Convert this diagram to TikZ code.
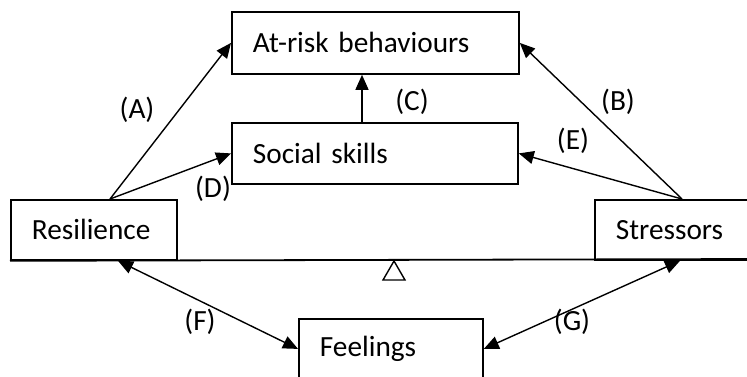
\documentclass[tikz,border=0pt]{standalone}
\usepackage{fontspec}
\setmainfont[WordSpace=0.75]{Carlito}
\usetikzlibrary{arrows.meta}
\begin{document}
\begin{tikzpicture}[x=1pt,y=-1pt,
  every node/.style={font=\fontsize{29.3}{34}\selectfont},
  box/.style={draw, line width=1.8pt, anchor=north west, align=left, inner xsep=21pt, inner ysep=0pt},
  arr/.style={line width=1.4pt, -{Triangle[length=15pt,width=13pt]}},
  darr/.style={line width=1.4pt, {Triangle[length=15pt,width=13pt]}-{Triangle[length=15pt,width=13pt]}},
  lbl/.style={inner sep=0pt}]
\useasboundingbox (0,0) rectangle (747,376);
\clip (0,0) rectangle (747,376);
\node[box, minimum width=287pt, minimum height=62pt, text width=245pt] (risk) at (231,11) {At-risk behaviours};
\node[box, minimum width=286pt, minimum height=61pt, text width=244pt] (soc) at (231,122) {Social skills};
\node[box, minimum width=166pt, minimum height=60pt, text width=124pt] (res) at (10,199) {Resilience};
\node[box, minimum width=170pt, minimum height=60pt, text width=128pt] (str) at (594,199) {Stressors};
\node[box, minimum width=184pt, minimum height=60pt, text width=142pt] (feel) at (298,318) {Feelings};
% beam and fulcrum
\coordinate (beamend) at (760,259);
\draw[line width=1.8pt] (res.south west) -- (beamend);
\coordinate (fulc) at (394,261);
\draw[line width=1.4pt, fill=white] (fulc) -- ++(-11,19) -- ++(22,0) -- cycle;
% arrows
\draw[arr] ([xshift=100pt]res.north west) -- (risk.west);
\draw[arr] ([xshift=100pt]res.north west) -- (soc.west);
\draw[arr] (soc.north -| 362,0) -- (risk.south -| 362,0);
\draw[arr] ([xshift=88pt]str.north west) -- (risk.east);
\draw[arr] ([xshift=88pt]str.north west) -- (soc.east);
\draw[darr] ([xshift=108pt]res.south west) -- (feel.west);
\draw[darr] (feel.east) -- ([xshift=86pt]str.south west);
% labels
\node[lbl] (lA) at (137,110) {(A)};
\node[lbl] (lB) at (618,102) {(B)};
\node[lbl] (lC) at (412,102) {(C)};
\node[lbl] (lD) at (213,189) {(D)};
\node[lbl] (lE) at (573,141) {(E)};
\node[lbl] (lF) at (200,322) {(F)};
\node[lbl] (lG) at (572,322) {(G)};
\end{tikzpicture}
\end{document}
